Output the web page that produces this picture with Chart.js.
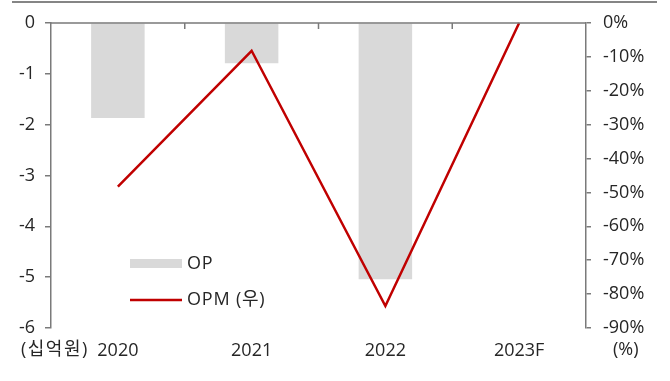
<!DOCTYPE html>
<html>
<head>
<meta charset="utf-8">
<title>OP / OPM</title>
<script src="https://cdn.jsdelivr.net/npm/chart.js@4.4.0/dist/chart.umd.min.js"></script>
<style>
  body { margin: 0; background: #fff; }
  #wrap { position: relative; width: 670px; height: 381px; }
  #topRule { position: absolute; left: 12px; top: 1px; width: 645px; height: 2px; background: #858585; }
  canvas { position: absolute; left: 0; top: 0; }
</style>
</head>
<body>
<div id="wrap">
  <div id="topRule"></div>
  <canvas id="opChart" width="670" height="381"></canvas>
</div>
<script>
  const years = ['2020', '2021', '2022', '2023F'];
  const op = [-1.87, -0.79, -5.04, null];   // 십억원
  const opm = [-48.3, -8.2, -83.5, 0];      // %
  const opRange = [-6, 0];
  const opmRange = [-90, 0];

  const FONT = "'Open Sans', 'Noto Sans CJK KR', sans-serif";
  const TEXT = '#262626';
  const AXIS = '#7a7a7a';

  // zero line across the top, category ticks, unit labels and the legend
  const decorations = {
    id: 'decorations',
    afterDraw(chart) {
      const { ctx, chartArea, scales } = chart;
      const x = scales.x;
      const y0 = scales.y.getPixelForValue(0);
      ctx.save();
      ctx.strokeStyle = AXIS;
      ctx.lineWidth = 1.5;
      ctx.beginPath();
      ctx.moveTo(chartArea.left, y0);
      ctx.lineTo(chartArea.right, y0);
      for (let i = 0; i < years.length - 1; i++) {
        const bx = (x.getPixelForValue(i) + x.getPixelForValue(i + 1)) / 2;
        ctx.moveTo(bx, y0);
        ctx.lineTo(bx, y0 + 6);
      }
      ctx.stroke();

      ctx.fillStyle = TEXT;
      ctx.font = '18px ' + FONT;
      ctx.textBaseline = 'middle';
      ctx.textAlign = 'left';
      const labelY = chartArea.bottom + 22;
      ctx.letterSpacing = '1.5px';
      ctx.fillText('(십억원)', 21, labelY);
      ctx.letterSpacing = '0px';
      ctx.fillText('(%)', 613, labelY);

      // legend
      const lx = chartArea.left + 79;
      const barDs = chart.data.datasets[1];
      const lineDs = chart.data.datasets[0];
      ctx.fillStyle = barDs.backgroundColor;
      ctx.fillRect(lx, 259, 52, 9);
      ctx.strokeStyle = lineDs.borderColor;
      ctx.lineWidth = 2.5;
      ctx.beginPath();
      ctx.moveTo(lx, 300);
      ctx.lineTo(lx + 52, 300);
      ctx.stroke();
      ctx.fillStyle = TEXT;
      ctx.letterSpacing = '0.8px';
      ctx.fillText(barDs.label, lx + 57, 264);
      ctx.fillText(lineDs.label, lx + 57, 300);
      ctx.restore();
    }
  };

  new Chart(document.getElementById('opChart'), {
    data: {
      labels: years,
      datasets: [
        {
          type: 'line',
          label: 'OPM (우)',
          data: opm,
          yAxisID: 'y2',
          borderColor: '#C00000',
          borderWidth: 2.5,
          pointRadius: 0,
          tension: 0,
          clip: false,
          order: 0,
        },
        {
          type: 'bar',
          label: 'OP',
          data: op,
          yAxisID: 'y',
          backgroundColor: '#D9D9D9',
          categoryPercentage: 1,
          barPercentage: 0.4,
          order: 1,
        },
      ],
    },
    options: {
      responsive: false,
      animation: false,
      layout: { padding: { top: 23, left: 0, right: 0, bottom: 0 } },
      plugins: { legend: { display: false }, tooltip: { enabled: false } },
      scales: {
        x: {
          grid: { display: false, drawTicks: false },
          border: { display: false },
          ticks: { color: TEXT, font: { family: FONT, size: 18 }, padding: 12, maxRotation: 0 },
          afterFit(s) { s.height = 53; },
        },
        y: {
          position: 'left',
          min: opRange[0],
          max: opRange[1],
          grid: { drawOnChartArea: false, drawTicks: true, tickLength: 6, color: AXIS, lineWidth: 1.5 },
          border: { display: true, color: AXIS, width: 1.5 },
          ticks: { stepSize: 1, color: TEXT, font: { family: FONT, size: 18 }, padding: 10 },
          afterFit(s) { s.width = 51; },
        },
        y2: {
          position: 'right',
          min: opmRange[0],
          max: opmRange[1],
          grid: { drawOnChartArea: false, drawTicks: true, tickLength: 5, color: AXIS, lineWidth: 1.5 },
          border: { display: true, color: AXIS, width: 1.5 },
          ticks: {
            stepSize: 10,
            color: TEXT,
            font: { family: FONT, size: 18 },
            padding: 12,
            callback: (v) => v + '%',
          },
          afterFit(s) { s.width = 84; },
        },
      },
    },
    plugins: [decorations],
  });
</script>
</body>
</html>
